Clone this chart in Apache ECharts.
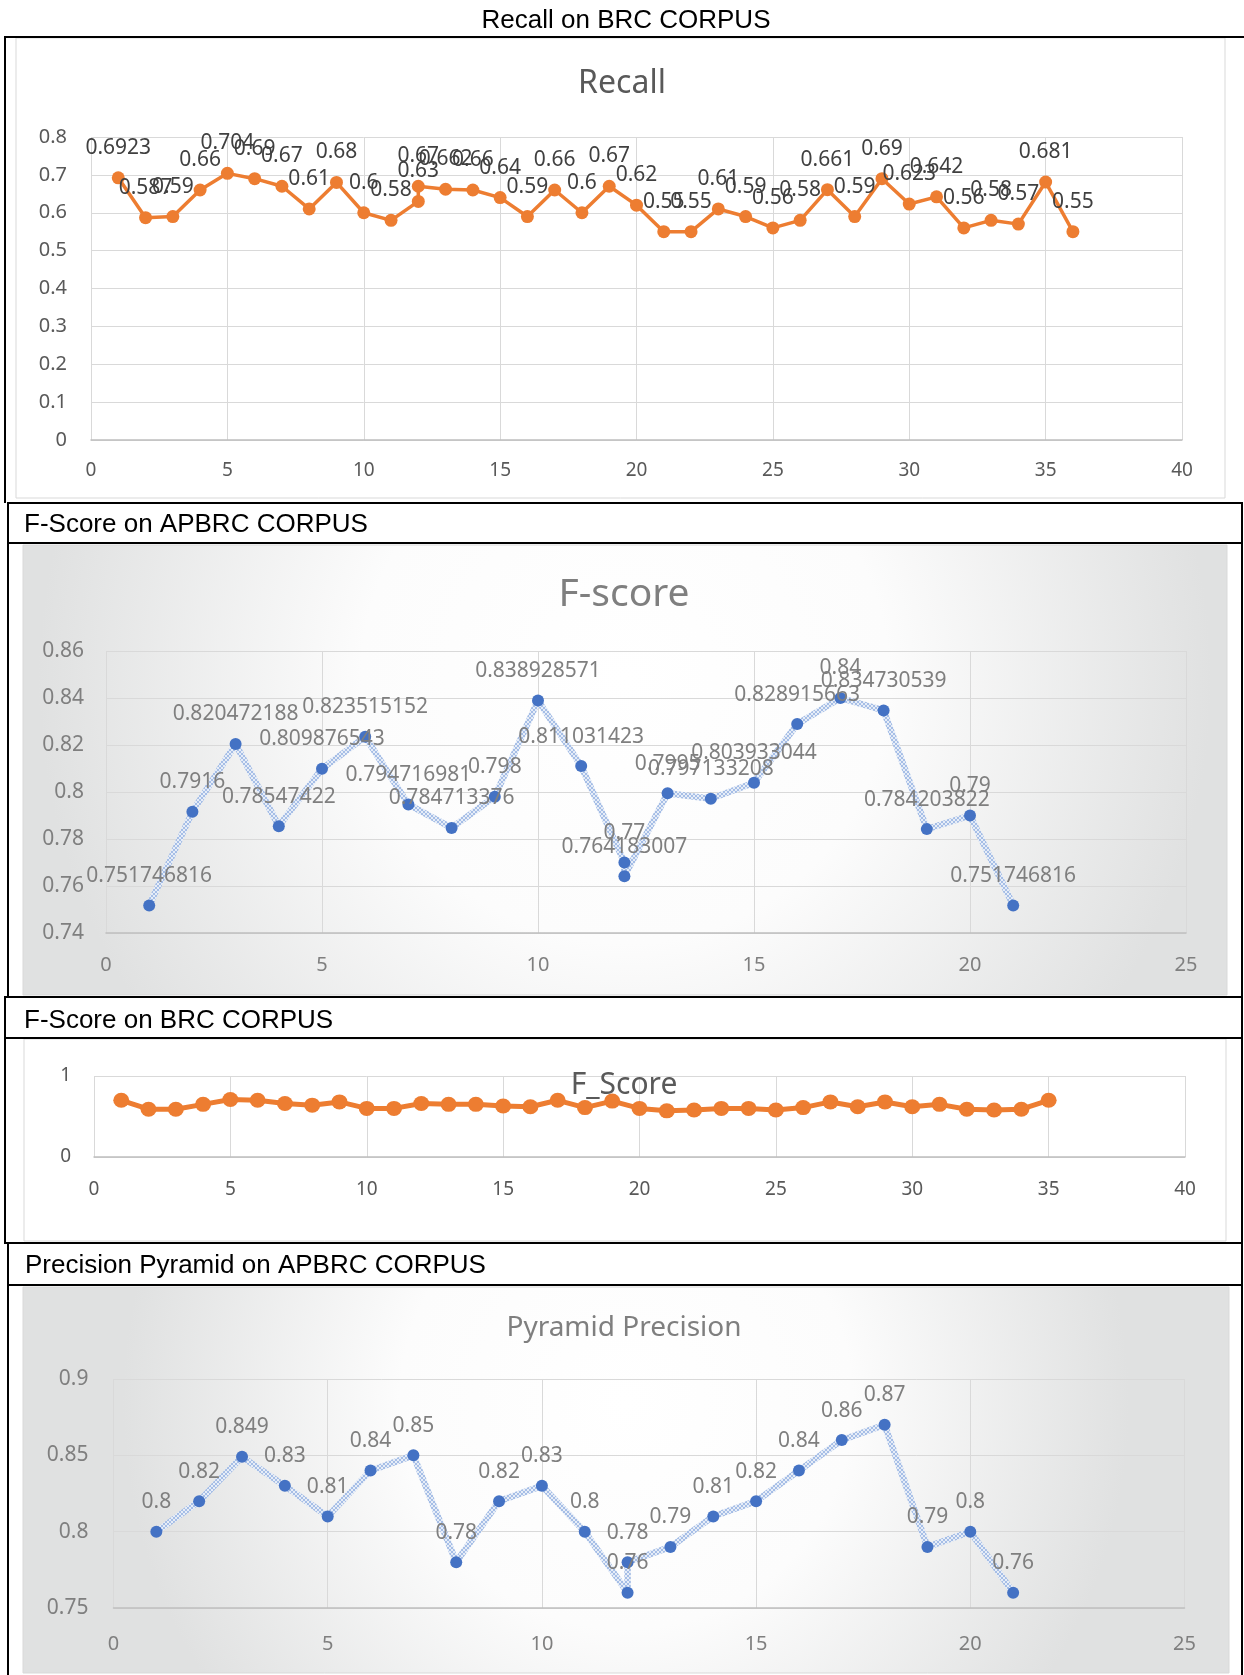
<!DOCTYPE html>
<html>
<head>
<meta charset="utf-8">
<script src="https://cdn.jsdelivr.net/npm/echarts@6/dist/echarts.min.js"></script>
<style>
  html, body { margin: 0; padding: 0; background: #fff; }
  #page { width: 1244px; height: 1675px; }
</style>
</head>
<body>
<div id="page"></div>
<script>
// ---- Recall on BRC corpus (run 12 appears twice) ----
const recallRuns = [1,2,3,4,5,6,7,8,9,10,11,12,12,13,14,15,16,17,18,19,20,21,22,23,24,25,26,27,28,29,30,31,32,33,34,35,36];
const recallValues = [0.6923,0.587,0.59,0.66,0.704,0.69,0.67,0.61,0.68,0.6,0.58,0.63,0.67,0.662,0.66,0.64,0.59,0.66,0.6,0.67,0.62,0.55,0.55,0.61,0.59,0.56,0.58,0.661,0.59,0.69,0.623,0.642,0.56,0.58,0.57,0.681,0.55];

// ---- F-score on APBRC corpus ----
const apbrcFRuns = [1,2,3,4,5,6,7,8,9,10,11,12,12,13,14,15,16,17,18,19,20,21];
const apbrcFValues = [0.751746816,0.7916,0.820472188,0.78547422,0.809876543,0.823515152,0.794716981,0.784713376,0.798,0.838928571,0.811031423,0.77,0.764183007,0.7995,0.797133208,0.803933044,0.828915663,0.84,0.834730539,0.784203822,0.79,0.751746816];

// ---- F-score on BRC corpus ----
const brcFRuns = [1,2,3,4,5,6,7,8,9,10,11,12,13,14,15,16,17,18,19,20,21,22,23,24,25,26,27,28,29,30,31,32,33,34,35];
const brcFValues = [0.70,0.59,0.59,0.65,0.71,0.70,0.66,0.64,0.68,0.60,0.60,0.66,0.65,0.65,0.63,0.62,0.70,0.61,0.69,0.60,0.57,0.58,0.60,0.60,0.58,0.61,0.68,0.62,0.68,0.62,0.65,0.59,0.58,0.59,0.70];

// ---- Pyramid precision on APBRC corpus ----
const pyramidRuns = [1,2,3,4,5,6,7,8,9,10,11,12,12,13,14,15,16,17,18,19,20,21];
const pyramidValues = [0.8,0.82,0.849,0.83,0.81,0.84,0.85,0.78,0.82,0.83,0.8,0.76,0.78,0.79,0.81,0.82,0.84,0.86,0.87,0.79,0.8,0.76];

const pairs = (xs, ys) => xs.map((x, i) => [x, ys[i]]);

const CHART_FONT = '"Noto Sans", "Liberation Sans", sans-serif';
const HEAD_FONT = '"Liberation Sans", Arial, sans-serif';
const ORANGE = '#ED7D31';
const BLUE = '#4472C4';
const GRID_LINE = '#d9d9d9';

// small cross-hatch tile used for the textured blue lines
function hatchTile() {
  const c = document.createElement('canvas');
  c.width = 4; c.height = 4;
  const g = c.getContext('2d');
  g.fillStyle = '#e6edf8';
  g.fillRect(0, 0, 4, 4);
  g.fillStyle = '#a6bee6';
  [[0,0],[1,1],[2,2],[3,3],[3,0],[2,1],[1,2],[0,3]].forEach(p => g.fillRect(p[0], p[1], 1, 1));
  return c;
}
const hatch = { image: hatchTile(), repeat: 'repeat' };

function xAxisCfg(gi, max, color, size, margin) {
  return {
    type: 'value', gridIndex: gi, min: 0, max: max, interval: 5,
    axisLine: { show: true, onZero: false, lineStyle: { color: '#bfbfbf', width: 1.5 } },
    axisTick: { show: false },
    splitLine: { show: true, lineStyle: { color: GRID_LINE, width: 1 } },
    axisLabel: { color: color, fontSize: size, fontFamily: CHART_FONT, margin: margin }
  };
}
function yAxisCfg(gi, min, max, interval, color, size, margin) {
  return {
    type: 'value', gridIndex: gi, min: min, max: max, interval: interval,
    axisLine: { show: false }, axisTick: { show: false },
    splitLine: { show: true, lineStyle: { color: GRID_LINE, width: 1 } },
    axisLabel: { color: color, fontSize: size, fontFamily: CHART_FONT, margin: margin }
  };
}
function valueLabel(color, size) {
  return {
    show: true, position: 'top', distance: 13,
    color: color, fontSize: size, fontFamily: CHART_FONT,
    formatter: p => String(p.value[1])
  };
}

function frameLine(x1, y1, x2, y2) {
  return { type: 'line', z: 50, shape: { x1, y1, x2, y2 }, style: { stroke: '#000', lineWidth: 2 } };
}
function frameRect(x, y, w, h) {
  return { type: 'rect', z: 50, shape: { x, y, width: w, height: h }, style: { fill: null, stroke: '#000', lineWidth: 2 } };
}
function panel(x, y, w, h, fill) {
  return { type: 'rect', z: -10, silent: true, shape: { x, y, width: w, height: h }, style: { fill: fill, stroke: GRID_LINE, lineWidth: 1 } };
}
function text(str, x, y, font, color, align) {
  return { type: 'text', z: 60, x: x, y: y,
    style: { text: str, font: font, fill: color, align: align, textAlign: align, verticalAlign: 'middle', textVerticalAlign: 'middle' } };
}
function softGradient() {
  return new echarts.graphic.RadialGradient(0.5, 0.3, 1.3, [
    { offset: 0, color: '#ffffff' },
    { offset: 0.45, color: '#fcfcfc' },
    { offset: 1, color: '#e0e1e1' }
  ]);
}

const chart = echarts.init(document.getElementById('page'), null, { renderer: 'canvas', width: 1244, height: 1675 });

chart.setOption({
  animation: false,
  backgroundColor: '#ffffff',
  grid: [
    { left: 91, top: 137, width: 1091, height: 303 },
    { left: 106, top: 651, width: 1080, height: 282 },
    { left: 94, top: 1076, width: 1091, height: 81 },
    { left: 113.5, top: 1379, width: 1071, height: 229 }
  ],
  xAxis: [
    xAxisCfg(0, 40, '#595959', 19, 21),
    xAxisCfg(1, 25, '#7f7f7f', 20, 22),
    xAxisCfg(2, 40, '#595959', 19, 23),
    xAxisCfg(3, 25, '#7f7f7f', 20, 26)
  ],
  yAxis: [
    yAxisCfg(0, 0, 0.8, 0.1, '#595959', 20, 24),
    yAxisCfg(1, 0.74, 0.86, 0.02, '#7f7f7f', 21, 22),
    yAxisCfg(2, 0, 1, 1, '#595959', 19, 23),
    yAxisCfg(3, 0.75, 0.9, 0.05, '#7f7f7f', 21, 25)
  ],
  series: [
    {
      name: 'Recall', type: 'line', xAxisIndex: 0, yAxisIndex: 0,
      data: pairs(recallRuns, recallValues),
      symbol: 'circle', symbolSize: 13,
      lineStyle: { color: ORANGE, width: 3.5 },
      itemStyle: { color: ORANGE },
      label: valueLabel('#404040', 21)
    },
    {
      name: 'F-score', type: 'line', xAxisIndex: 1, yAxisIndex: 1,
      data: pairs(apbrcFRuns, apbrcFValues),
      symbol: 'circle', symbolSize: 12,
      lineStyle: { color: hatch, width: 6.5 },
      itemStyle: { color: BLUE },
      label: valueLabel('#7f7f7f', 21)
    },
    {
      name: 'F_Score', type: 'line', xAxisIndex: 2, yAxisIndex: 2,
      data: pairs(brcFRuns, brcFValues),
      symbol: 'circle', symbolSize: [16, 15],
      lineStyle: { color: ORANGE, width: 5 },
      itemStyle: { color: ORANGE }
    },
    {
      name: 'Pyramid Precision', type: 'line', xAxisIndex: 3, yAxisIndex: 3,
      data: pairs(pyramidRuns, pyramidValues),
      symbol: 'circle', symbolSize: 12,
      lineStyle: { color: hatch, width: 6.5 },
      itemStyle: { color: BLUE },
      label: valueLabel('#7f7f7f', 21)
    }
  ],
  graphic: [
    // chart panels
    panel(16, 38, 1209, 460, '#ffffff'),
    panel(23, 545, 1204, 450, softGradient()),
    panel(24, 1039, 1202, 202, '#ffffff'),
    panel(23, 1287, 1206, 386, softGradient()),
    // document table borders
    frameLine(4, 37, 1244, 37),
    frameLine(5, 37, 5, 503),
    frameRect(8, 503, 1234, 494),
    frameLine(8, 543, 1242, 543),
    frameRect(5, 997, 1237, 246),
    frameLine(5, 1038, 1242, 1038),
    frameRect(8, 1243, 1234, 440),
    frameLine(8, 1285, 1242, 1285),
    // section headings
    text('Recall on BRC CORPUS', 626, 21, '26px ' + HEAD_FONT, '#000', 'center'),
    text('F-Score on APBRC CORPUS', 24, 525, '26px ' + HEAD_FONT, '#000', 'left'),
    text('F-Score on BRC CORPUS', 24, 1021, '26px ' + HEAD_FONT, '#000', 'left'),
    text('Precision Pyramid on APBRC CORPUS', 25, 1266, '26px ' + HEAD_FONT, '#000', 'left'),
    // chart titles
    text('Recall', 622, 84, '32px ' + CHART_FONT, '#595959', 'center'),
    text('F-score', 624, 595, '39px ' + CHART_FONT, '#7f7f7f', 'center'),
    text('F_Score', 624, 1085, '30px ' + CHART_FONT, '#595959', 'center'),
    text('Pyramid Precision', 624, 1328, '28px ' + CHART_FONT, '#7f7f7f', 'center')
  ]
});
</script>
</body>
</html>
